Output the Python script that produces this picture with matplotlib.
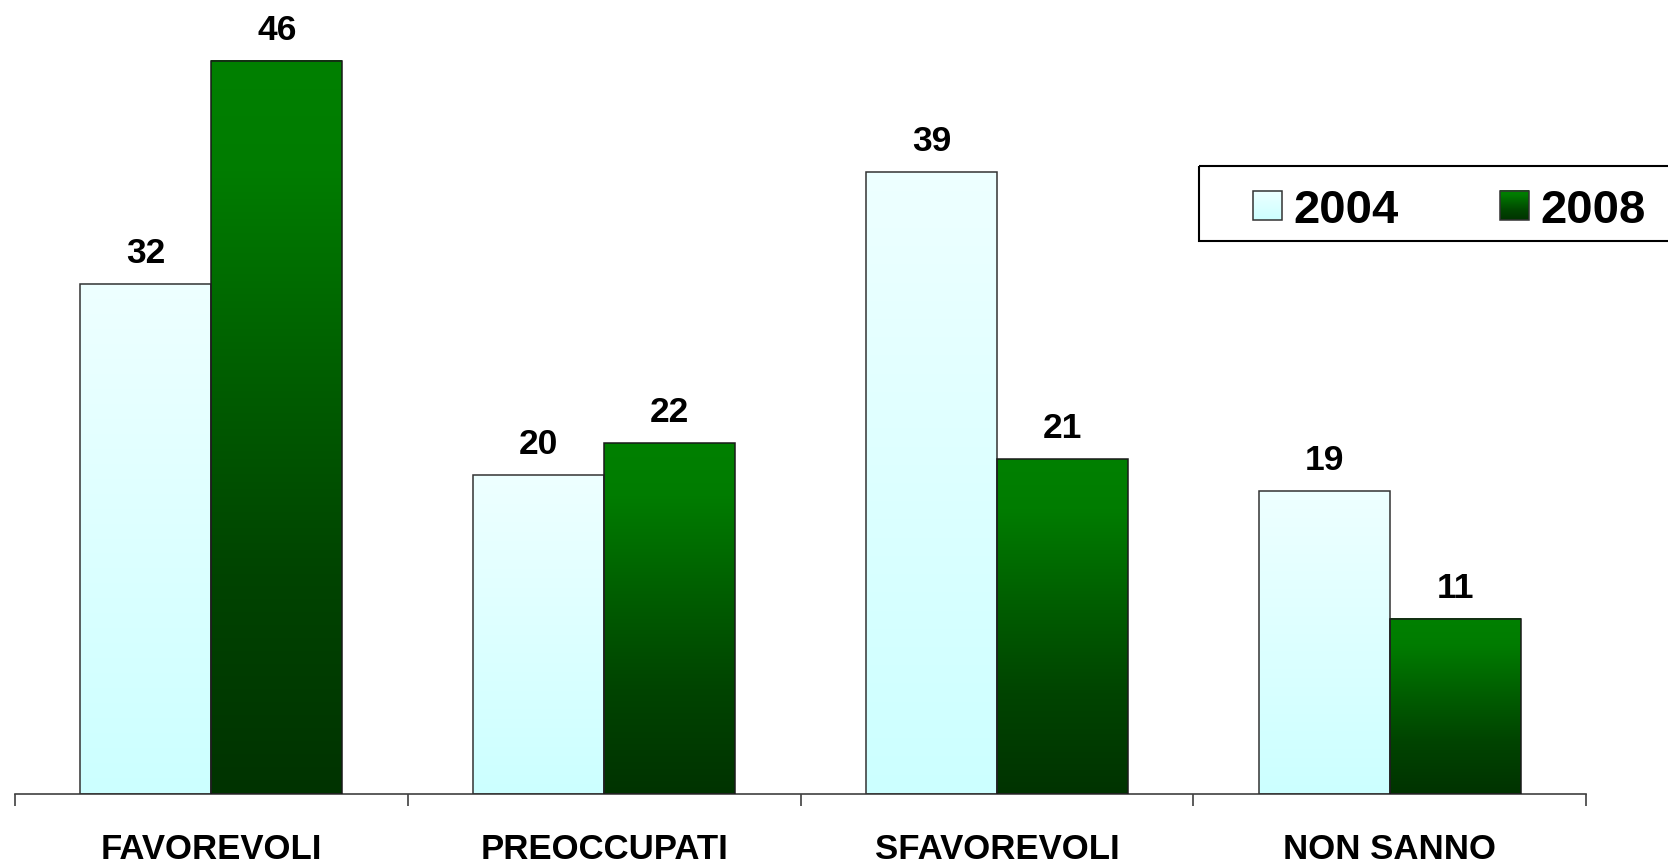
import numpy as np
import matplotlib
matplotlib.use('Agg')
import matplotlib.pyplot as plt
from matplotlib.colors import LinearSegmentedColormap
from matplotlib.patches import Rectangle

categories = ["FAVOREVOLI", "PREOCCUPATI", "SFAVOREVOLI", "NON SANNO"]
series_names = ["2004", "2008"]
values_2004 = [32, 20, 39, 19]
values_2008 = [46, 22, 21, 11]

plt.rcParams['font.family'] = ['Liberation Sans', 'DejaVu Sans']

W, H = 1668, 863
fig = plt.figure(figsize=(W / 100, H / 100), dpi=100)
ax = fig.add_axes([15 / W, 69 / H, (1586 - 15) / W, 794 / H])

cmap_light = LinearSegmentedColormap.from_list('light', ['#CCFFFF', '#EEFFFF'])
cmap_green = LinearSegmentedColormap.from_list(
    'green', [(0.0, '#003300'), (0.3, '#004400'), (0.55, '#005C00'),
              (0.85, '#007C00'), (1.0, '#008000')])

x = np.arange(len(categories))
bw = 1 / 3
bars04 = ax.bar(x - bw / 2, values_2004, bw, facecolor='none', edgecolor='#333333', lw=1.1, zorder=3)
bars08 = ax.bar(x + bw / 2, values_2008, bw, facecolor='none', edgecolor='#1a1a1a', lw=1.1, zorder=3)

grad = np.linspace(0, 1, 256).reshape(-1, 1)


def fill(bars, cmap):
    for b in bars:
        x0, y0 = b.get_x(), b.get_y()
        w, h = b.get_width(), b.get_height()
        ax.imshow(grad, cmap=cmap, extent=[x0, x0 + w, y0, y0 + h], origin='lower',
                  aspect='auto', zorder=2, interpolation='bilinear')


fill(bars04, cmap_light)
fill(bars08, cmap_green)

ax.set_xlim(-0.5, 3.5)
ax.set_ylim(0, 794 / 15.94)

for s in ['left', 'top', 'right']:
    ax.spines[s].set_visible(False)
ax.spines['bottom'].set_color('#404040')
ax.spines['bottom'].set_linewidth(1.2)
ax.set_yticks([])
ax.set_xticks(x)
ax.set_xticklabels(categories, fontsize=25, fontweight='bold')
ax.tick_params(axis='x', which='major', length=0, pad=28)
ax.set_xticks(np.arange(-0.5, len(categories) + 0.5, 1), minor=True)
ax.tick_params(axis='x', which='minor', length=8.6, width=1.2, color='#404040', direction='out')

ax.bar_label(bars04, padding=10, fontsize=25.5, fontweight='bold')
ax.bar_label(bars08, padding=10, fontsize=25.5, fontweight='bold')

# legend drawn in figure pixel space
ov = fig.add_axes([0, 0, 1, 1])
ov.set_xlim(0, W)
ov.set_ylim(H, 0)
ov.axis('off')
ov.add_patch(Rectangle((1199, 166), 600, 75, fill=False, ec='black', lw=1.5))
legend_items = [(1253, cmap_light, series_names[0]), (1500, cmap_green, series_names[1])]
for px, cm, name in legend_items:
    ov.imshow(grad, cmap=cm, extent=[px, px + 29, 220, 191], origin='lower', aspect='auto',
              interpolation='bilinear', zorder=2)
    ov.add_patch(Rectangle((px, 191), 29, 29, fill=False, ec='#333333', lw=1.1, zorder=3))
    ov.text(px + 40, 223, name, fontsize=34, fontweight='bold', ha='left', va='baseline')
ov.set_xlim(0, W)
ov.set_ylim(H, 0)

fig.savefig('out.png', dpi=100)
